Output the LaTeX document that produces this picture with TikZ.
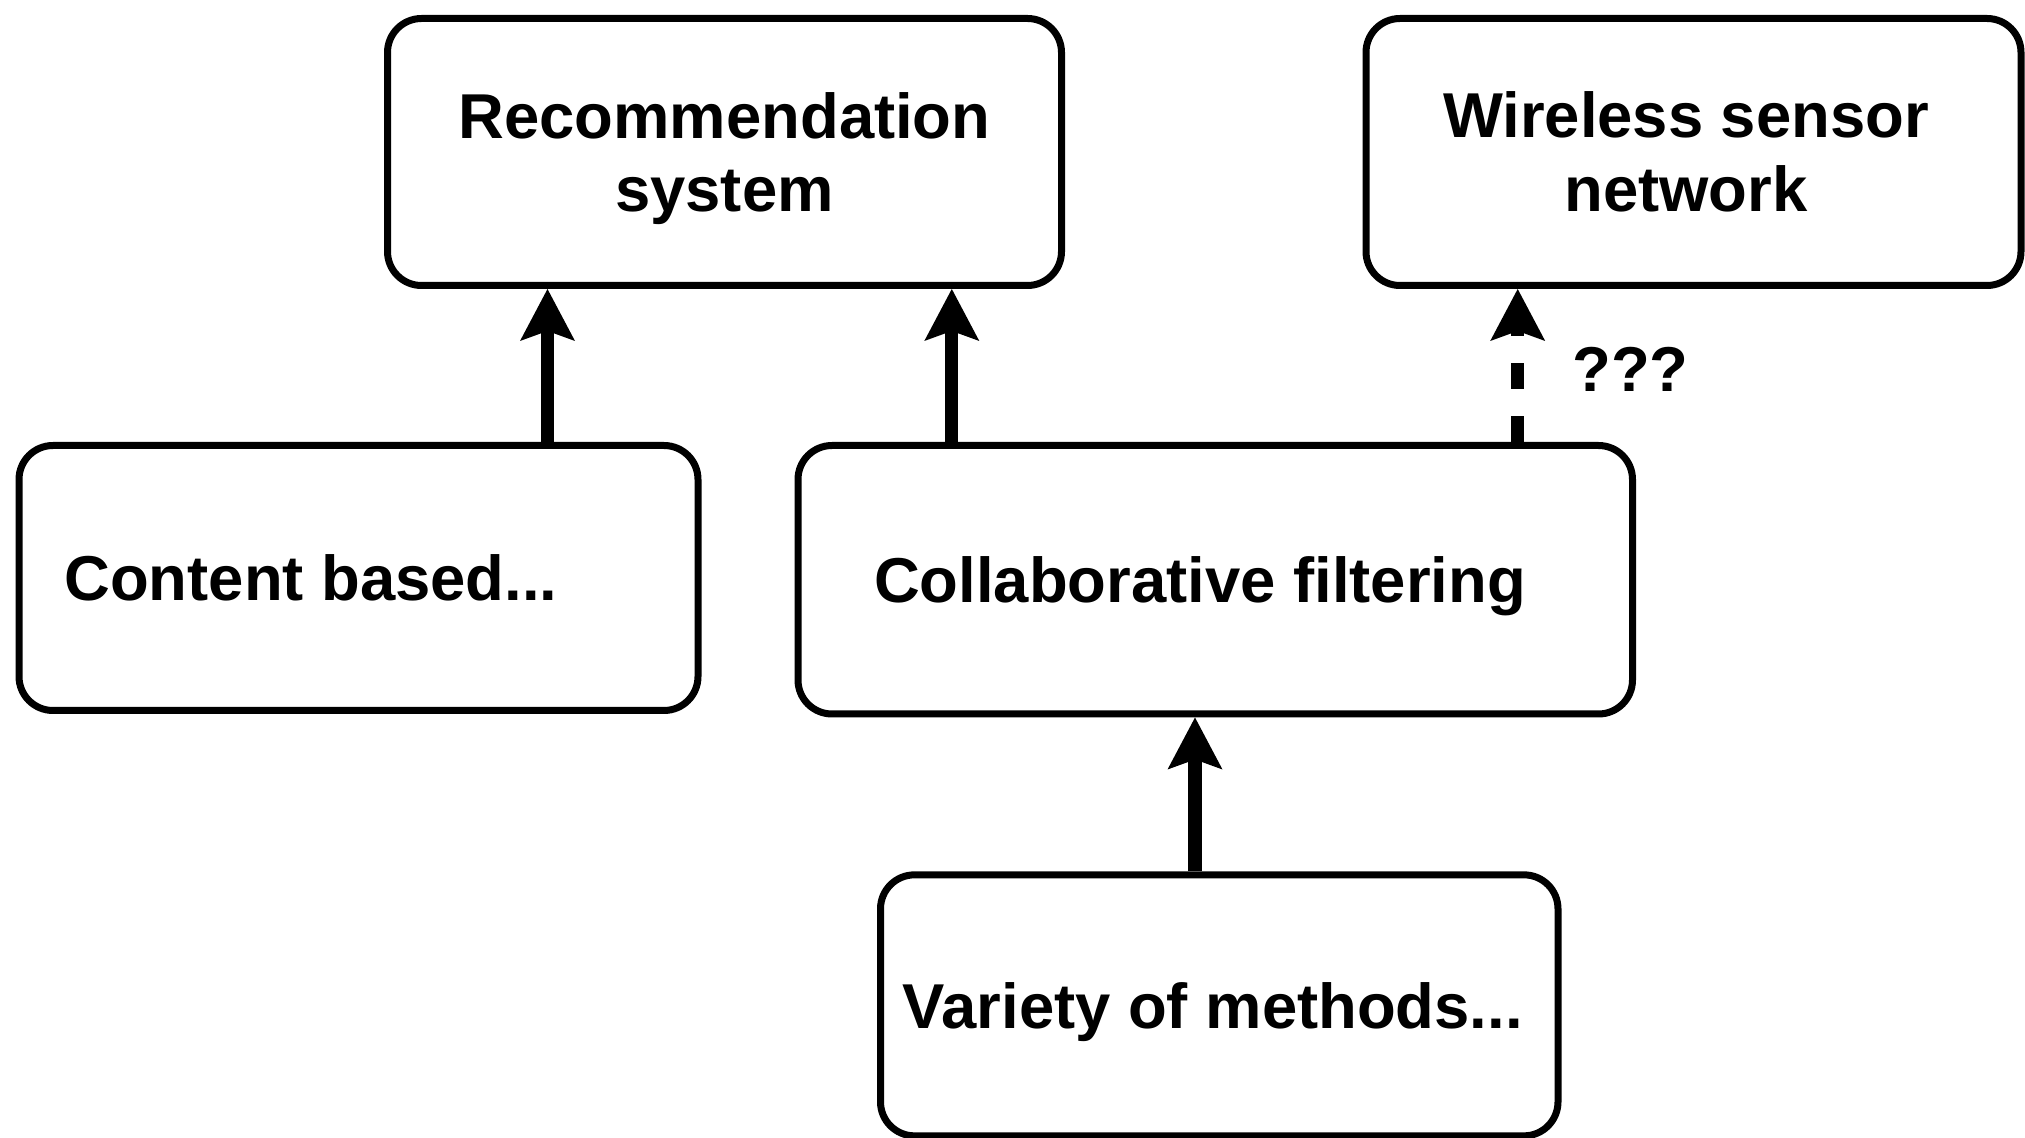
\documentclass[tikz,border=0pt]{standalone}
\usepackage{fontspec}
\setmainfont{Liberation Sans}
\usetikzlibrary{arrows.meta}
\begin{document}
\begin{tikzpicture}[x=0.5pt,y=-0.5pt,
  box/.style={draw=black, line width=3.5pt, rounded corners=17pt, fill=white,
    inner sep=0pt, align=center,
    font=\bfseries\fontsize{31.7pt}{36.75pt}\selectfont},
  oneline/.style={text height=22.7pt, text depth=0pt},
  head/.style={-{Stealth[length=26pt 0 0, width=27.5pt, inset=5pt, line width=0pt 0 0]}},
  link/.style={head, line width=6.6pt},
  maybe/.style={head, line width=6.6pt, dash pattern=on 13.2pt off 13.3pt},
  note/.style={inner sep=0pt, font=\bfseries\fontsize{31.7pt}{36.75pt}\selectfont}]

\path[use as bounding box, clip] (0,0) rectangle (2025,1138);
\fill[white] (0,0) rectangle (2025,1138);

% upper row (descender of the last line ignored so both boxes set their lines alike)
\node[box, minimum width=337pt, minimum height=133.5pt] (rec) at (724.5,152)
  {Recommendation\\\raisebox{0pt}[\height][0pt]{system}};
\node[box, minimum width=327.5pt, minimum height=133.5pt] (wsn) at (1693.5,152)
  {Wireless sensor\hspace*{7.5pt}\\network\hspace*{7.5pt}};

% middle row
\node[box, oneline, minimum width=339.5pt, minimum height=132.5pt] (content) at (358.5,578)
  {Content based...\hspace*{47.5pt}};
\node[box, oneline, minimum width=417.25pt, minimum height=134.25pt] (collab) at (1215.25,579.75)
  {Collaborative filtering\hspace*{15.25pt}};

% bottom row
\node[box, oneline, minimum width=338.75pt, minimum height=130.5pt] (variety) at (1219.25,1005.35)
  {Variety of methods...\hspace*{6.5pt}};

% connectors
\draw[link] (content.north -| 547.5,0) -- (rec.south -| 547.5,0);
\draw[link] (collab.north -| 951.8,0) -- (rec.south -| 951.8,0);
\draw[link] (variety.north -| 1195,0) -- (collab.south -| 1195,0);
\draw[maybe] (collab.north -| 1517.7,0) -- (wsn.south -| 1517.7,0);

\node[note, anchor=base west] (qq) at (1572,392) {???};
\end{tikzpicture}
\end{document}
